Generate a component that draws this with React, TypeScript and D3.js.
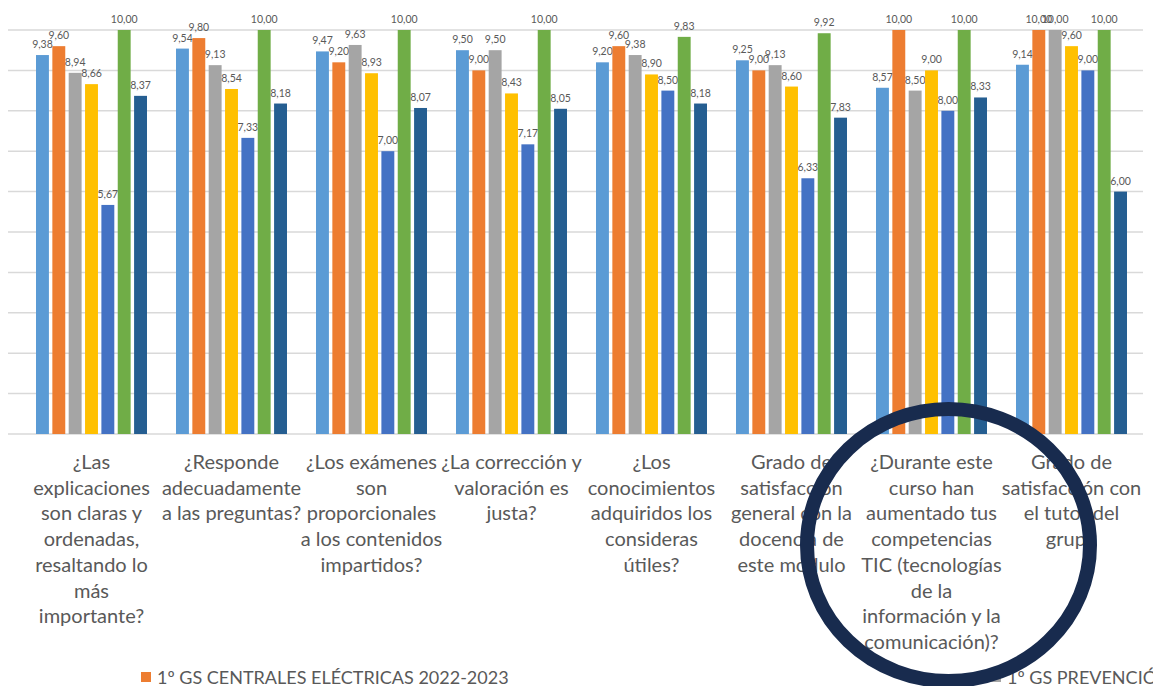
import React from "react";
import * as d3 from "d3";

// Survey questions (x categories), pre-split into the wrapped lines of the axis labels
const categories: string[][] = [
  ["¿Las", "explicaciones", "son claras y", "ordenadas,", "resaltando lo", "más", "importante?"],
  ["¿Responde", "adecuadamente", "a las preguntas?"],
  ["¿Los exámenes", "son", "proporcionales", "a los contenidos", "impartidos?"],
  ["¿La corrección y", "valoración es", "justa?"],
  ["¿Los", "conocimientos", "adquiridos los", "consideras", "útiles?"],
  ["Grado de", "satisfacción", "general con la", "docencia de", "este modulo"],
  ["¿Durante este", "curso han", "aumentado tus", "competencias", "TIC (tecnologías", "de la", "información y la", "comunicación)?"],
  ["Grado de", "satisfacción con", "el tutor del", "grupo"],
];

// Average score per group, one array per series (same order as categories)
const serie1 = [9.38, 9.54, 9.47, 9.5, 9.2, 9.25, 8.57, 9.14];
const serie2 = [9.6, 9.8, 9.2, 9.0, 9.6, 9.0, 10.0, 10.0];
const serie3 = [8.94, 9.13, 9.63, 9.5, 9.38, 9.13, 8.5, 10.0];
const serie4 = [8.66, 8.54, 8.93, 8.43, 8.9, 8.6, 9.0, 9.6];
const serie5 = [5.67, 7.33, 7.0, 7.17, 8.5, 6.33, 8.0, 9.0];
const serie6 = [10.0, 10.0, 10.0, 10.0, 9.83, 9.92, 10.0, 10.0];
const serie7 = [8.37, 8.18, 8.07, 8.05, 8.18, 7.83, 8.33, 6.0];

const seriesValues = [serie1, serie2, serie3, serie4, serie5, serie6, serie7];
const seriesColors = ["#5B9BD5", "#ED7D31", "#A5A5A5", "#FFC000", "#4472C4", "#70AD47", "#255E91"];

const yTicks = [0, 1, 2, 3, 4, 5, 6, 7, 8, 9, 10];

const legendEntries = [
  { name: "1º GS CENTRALES ELÉCTRICAS 2022-2023", color: "#ED7D31", x: 141 },
  { name: "1º GS PREVENCIÓN", color: "#A5A5A5", x: 991 },
];

const W = 1153;
const H = 686;
const FONT = "Lato, 'Open Sans', sans-serif";
const TEXT = "#595959";

const esLocale = d3.formatLocale({ decimal: ",", thousands: ".", grouping: [3], currency: ["", "€"] });
const fmt = esLocale.format(".2f");

export default function App() {
  const idx = d3.range(categories.length);
  const x = d3.scaleBand<number>().domain(idx).range([21.5, 1141.5]).paddingInner(0).paddingOuter(0);
  const groupPad = (x.bandwidth() - 111) / 2;
  const xs = d3
    .scaleBand<number>()
    .domain(d3.range(seriesValues.length))
    .range([groupPad, x.bandwidth() - groupPad])
    .paddingInner(0.21)
    .paddingOuter(0);
  const y = d3.scaleLinear().domain([0, 10]).range([434, 30]);

  const lineH = 25.7;

  return (
    <svg
      width={W}
      height={H}
      style={{ position: "absolute", left: 0, top: 0, background: "#fff" }}
      fontFamily={FONT}
    >
      {/* horizontal gridlines */}
      <g>
        {yTicks.map((t) => (
          <line key={t} x1={8} x2={1143} y1={y(t)} y2={y(t)} stroke="#D9D9D9" strokeWidth={1.5} />
        ))}
      </g>

      {/* clustered bars with value labels */}
      {idx.map((ci) => (
        <g key={ci} transform={`translate(${x(ci)},0)`}>
          {seriesValues.map((vals, si) => {
            const v = vals[ci];
            const bx = xs(si)!;
            return (
              <g key={si}>
                <rect x={bx} y={y(v)} width={xs.bandwidth()} height={y(0) - y(v)} fill={seriesColors[si]} />
                <text
                  x={bx + xs.bandwidth() / 2}
                  y={y(v) - 7}
                  textAnchor="middle"
                  fontSize={10.5}
                  fill={TEXT}
                >
                  {fmt(v)}
                </text>
              </g>
            );
          })}
        </g>
      ))}

      {/* category labels */}
      {idx.map((ci) => (
        <text key={ci} textAnchor="middle" fontSize={20} fill={TEXT}>
          {categories[ci].map((ln, li) => (
            <tspan key={li} x={x(ci)! + x.bandwidth() / 2} y={469 + li * lineH}>
              {ln}
            </tspan>
          ))}
        </text>
      ))}

      {/* legend */}
      {legendEntries.map((e) => (
        <g key={e.name}>
          <rect x={e.x} y={672} width={10} height={10} fill={e.color} />
          <text x={e.x + 16} y={684} fontSize={18} fill={TEXT}>
            {e.name}
          </text>
        </g>
      ))}

      {/* highlight ring */}
      <ellipse cx={948.5} cy={545} rx={141.5} ry={136} fill="none" stroke="#182B4E" strokeWidth={14} />
    </svg>
  );
}
